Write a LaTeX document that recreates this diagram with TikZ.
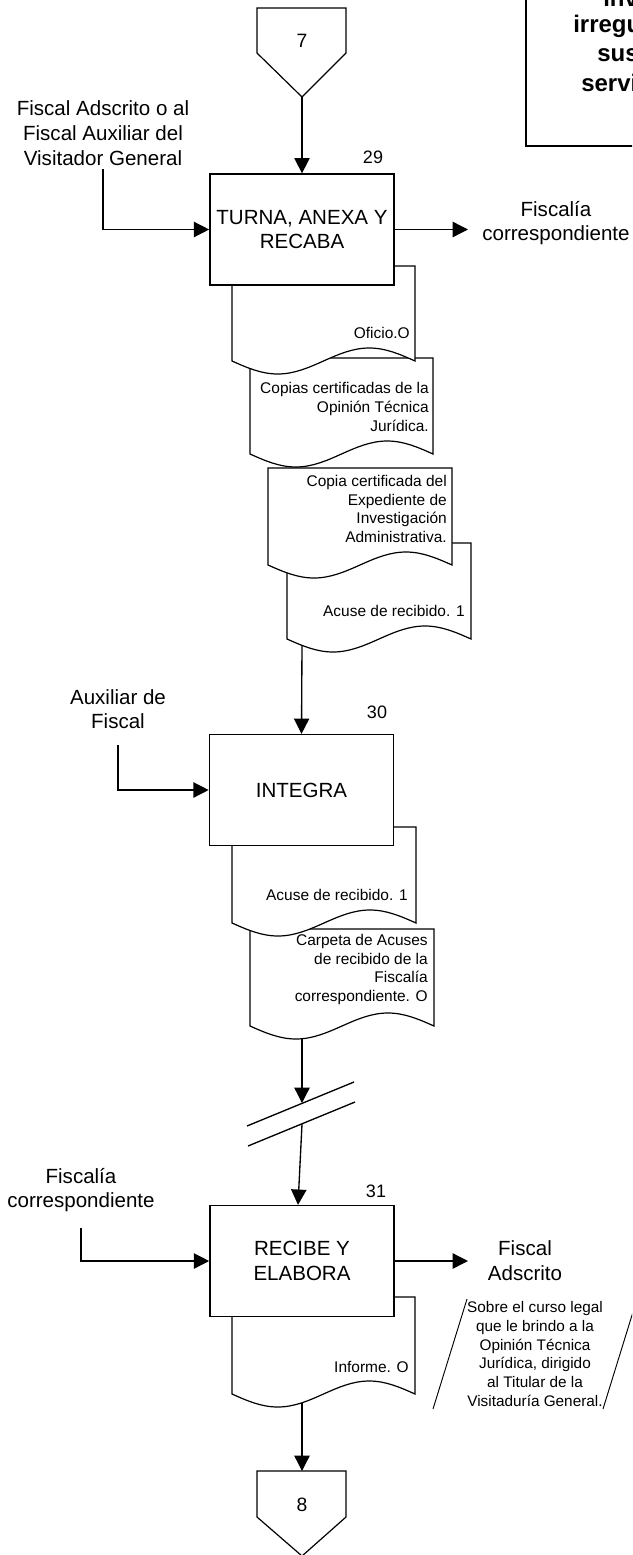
\documentclass[tikz,border=0pt]{standalone}
\usepackage{fontspec}
\setmainfont{Liberation Sans}
\usetikzlibrary{arrows.meta}
\tikzset{
 proc/.style={draw, line width=1.2pt, fill=white, minimum width=138pt, minimum height=83pt, inner sep=0pt, align=center, font=\fontsize{15.4}{18.5}\selectfont},
 lbl/.style={inner sep=0pt, align=center, font=\fontsize{15.4}{18.5}\selectfont},
 num/.style={inner sep=0pt, font=\fontsize{13.5}{16}\selectfont},
 connum/.style={inner sep=0pt, font=\fontsize{14.5}{17}\selectfont},
 doctxt/.style={inner sep=0pt, align=right, font=\fontsize{11.6}{14}\selectfont},
 notetxt/.style={inner sep=0pt, align=center, font=\fontsize{11.5}{14}\selectfont},
 docshape/.style={draw, line width=0.9pt, fill=white},
 arr/.style={draw, line width=1pt, -{Triangle[length=11.5pt,width=11.5pt]}},
 ln/.style={draw, line width=1pt},
 thinln/.style={draw, line width=0.7pt},
 conn/.style={draw, line width=0.9pt, fill=white},
 bigbold/.style={inner sep=0pt, anchor=base west, font=\bfseries\fontsize{18}{22}\selectfont},
}
\newcommand\flowdoc[4]{\path[docshape] (#1,#2) -- (#1,#4) sin ({#1+0.25*(#3-#1)},{#4+13}) cos ({#1+0.5*(#3-#1)},#4) sin ({#1+0.75*(#3-#1)},{#4-13}) cos (#3,#4) -- (#3,#2) -- cycle;}
\begin{document}
\begin{tikzpicture}[x=0.75pt,y=-0.75pt]
\useasboundingbox (0,0) rectangle (632,1555);
\clip (0,0) rectangle (632,1555);
\fill[white] (0,0) rectangle (632,1555);

% top-right note box (cut by the page edge)
\draw[line width=1.2pt] (526,-20) rectangle (680,146);
\node[bigbold] (t1) at (603,7) {inv};
\node[bigbold] (t2) at (573,33) {irregu};
\node[bigbold] (t3) at (597,62) {sus};
\node[bigbold] (t4) at (581,92) {servi};

% off-page connector 7
\path[conn] (257,8) -- (346,8) -- (346,53) -- (302,97) -- (257,53) -- cycle;
\node[connum] (c7) at (302,41) {7};
\coordinate (c7tip) at (302,97);

% ---------- group 29 ----------
\flowdoc{287}{543}{471}{639}
\node[doctxt, anchor=east] (d4t) at (465,611) {Acuse de recibido. 1};
\flowdoc{268}{468}{452}{565}
\node[doctxt, anchor=east] (d3t) at (447,509) {Copia certificada del\\Expediente de\\Investigación\\Administrativa.};
\flowdoc{250}{358}{433}{454}
\node[doctxt, anchor=east] (d2t) at (429,407) {Copias certificadas de la\\Opinión Técnica\\Jurídica.};
\flowdoc{232}{266}{415}{361}
\node[doctxt, anchor=east] (d1t) at (410,333) {Oficio.O};

\node[proc] (b29) at (302,229.5) {TURNA, ANEXA Y\\RECABA};
\node[num] (n29) at (373,157) {29};
\node[lbl] (l29) at (103,133) {Fiscal Adscrito o al\\Fiscal Auxiliar del\\Visitador General};
\node[lbl] (r29) at (556,223) {Fiscalía\\correspondiente};
\coordinate (o29) at (468,229.5);
\coordinate (d4b) at (302,645);

\draw[arr] (c7tip) -- (b29.north);
\draw[arr] ([yshift=-3pt]l29.south) |- (b29.west);
\draw[arr] (b29.east) -- (o29);

% ---------- group 30 ----------
\flowdoc{250}{929}{434}{1026}
\node[doctxt, anchor=east] (dbt) at (428,969.5) {Carpeta de Acuses\\de recibido de la\\Fiscalía\\correspondiente. O};
\flowdoc{232}{827}{416}{923}
\node[doctxt, anchor=east] (dat) at (408,895) {Acuse de recibido. 1};

\node[proc] (b30) at (301.5,790) {INTEGRA};
\node[num] (n30) at (377,712) {30};
\node[lbl] (l30) at (118,709) {Auxiliar de\\Fiscal};
\draw[arr] (d4b) -- (b30.north);
\draw[arr] ([yshift=-12pt]l30.south) |- (b30.west);

% break symbol
\coordinate (dbb) at (302,1039);
\coordinate (brkU) at (302,1103);
\coordinate (brkL) at (302,1124);
\draw[arr] (dbb) -- (brkU);
\draw[ln] (247,1126) -- (354,1082);
\draw[ln] (248,1146) -- (355,1102);

% ---------- group 31 ----------
\flowdoc{232}{1297}{415}{1394}
\node[doctxt, anchor=east] (dit) at (409,1367) {Informe. O};

\node[proc] (b31) at (302,1261) {RECIBE Y\\ELABORA};
\node[num] (n31) at (376,1191) {31};
\node[lbl] (l31) at (81,1190) {Fiscalía\\correspondiente};
\node[lbl] (r31) at (525,1260.5) {Fiscal\\Adscrito};
\coordinate (o31) at (468,1261);
\draw[arr] (brkL) -- ([xshift=-3pt]b31.north);
\draw[arr] ([yshift=-12pt]l31.south) |- (b31.west);
\draw[arr] (b31.east) -- (o31);

% note parallelogram
\draw[thinln] (467,1299) -- (433,1409);
\draw[thinln] (637,1299) -- (603,1409);
\node[notetxt] (note) at (535,1354) {Sobre el curso legal\\que le brindo a la\\Opinión Técnica\\Jurídica, dirigido\\al Titular de la\\Visitaduría General.};

% off-page connector 8
\path[conn] (257,1471) -- (346,1471) -- (346,1517) -- (302,1556) -- (257,1517) -- cycle;
\node[connum] (c8) at (302,1505) {8};
\coordinate (dib) at (302,1403);
\draw[arr] (dib) -- (302,1471);
\end{tikzpicture}
\end{document}
